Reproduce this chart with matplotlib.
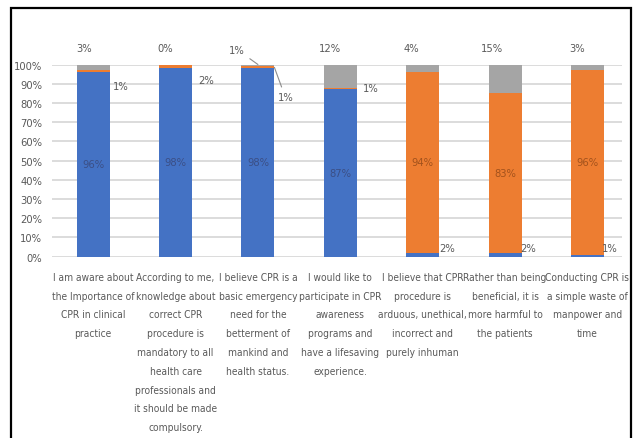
import numpy as np
import matplotlib
matplotlib.use('Agg')
import matplotlib.pyplot as plt
from matplotlib import font_manager
from matplotlib.font_manager import FontProperties
from matplotlib.patches import Rectangle
from matplotlib.ticker import FuncFormatter

# survey statements and answer shares (%)
categories = [
    "I am aware about\nthe Importance of\nCPR in clinical\npractice",
    "According to me,\nknowledge about\ncorrect CPR\nprocedure is\nmandatory to all\nhealth care\nprofessionals and\nit should be made\ncompulsory.",
    "I believe CPR is a\nbasic emergency\nneed for the\nbetterment of\nmankind and\nhealth status.",
    "I would like to\nparticipate in CPR\nawareness\nprograms and\nhave a lifesaving\nexperience.",
    "I believe that CPR\nprocedure is\narduous, unethical,\nincorrect and\npurely inhuman",
    "Rather than being\nbeneficial, it is\nmore harmful to\nthe patients",
    "Conducting CPR is\na simple waste of\nmanpower and\ntime",
]
agree = [96, 98, 98, 87, 2, 2, 1]
disagree = [1, 2, 1, 1, 94, 83, 96]
dont_know = [3, 0, 1, 12, 4, 15, 3]

BLUE = '#4472c4'
ORANGE = '#ed7d31'
GRAY = '#a5a5a5'
TXT = '#595959'


# pick a narrow regular font file (the original uses Calibri)
def narrow_font():
    paths = [f.fname for f in font_manager.fontManager.ttflist]
    for key in ('liberationsansnarrow-regular', 'dejavusanscondensed.ttf'):
        for p in paths:
            if key in p.lower().replace('_', ''):
                return p
    return None


path = narrow_font()
if path:
    def fp(size):
        return FontProperties(fname=path, size=size)
    fs = 8.0
else:
    def fp(size):
        return FontProperties(family='DejaVu Sans', size=size)
    fs = 7.2

W, H = 633, 439
fig = plt.figure(figsize=(W / 100, H / 100), dpi=100)
ax = fig.add_axes([52 / W, 1 - 257.5 / H, 570 / W, 192 / H])

x = np.arange(len(categories))
top2 = np.add(agree, disagree)
ax.bar(x, agree, 0.4, color=BLUE, zorder=2)
ax.bar(x, disagree, 0.4, bottom=agree, color=ORANGE, zorder=2)
ax.bar(x, dont_know, 0.4, bottom=top2, color=GRAY, zorder=2)

ax.set_xlim(-0.5, 6.42)
ax.set_ylim(0, 100)
ax.set_yticks(range(0, 101, 10))
ax.yaxis.set_major_formatter(FuncFormatter(lambda v, p: f"{int(v)}%"))
ax.grid(axis='y', color='#d9d9d9', lw=1.3, zorder=0)
for s in ax.spines.values():
    s.set_visible(False)
ax.tick_params(axis='y', length=0, pad=7, labelcolor=TXT)
ax.set_xticks(x)
ax.set_xticklabels(categories, color=TXT, linespacing=2.1, va='top')
ax.tick_params(axis='x', length=0, pad=11)
for lab in ax.get_yticklabels():
    lab.set_fontproperties(fp(fs))
for lab in ax.get_xticklabels():
    lab.set_fontproperties(fp(fs - 0.7))

# big segment labels, centred
for i in x:
    if agree[i] > disagree[i]:
        ax.text(i, agree[i] / 2, f"{agree[i]}%", ha='center', va='center',
                fontproperties=fp(fs), color='#3b4f86')
    else:
        ax.text(i, agree[i] + disagree[i] / 2, f"{disagree[i]}%", ha='center',
                va='center', fontproperties=fp(fs), color='#a3521c')

# "don't know" labels above the bars
top_off = [(-9, 17), (-10, 17), (-21, 15), (-10, 17), (-11, 17), (-13, 17), (-10, 17)]
for i in x:
    kw = {}
    if i == 2:
        kw['arrowprops'] = dict(arrowstyle='-', color='#8c8c8c', lw=0.8,
                                shrinkA=2, shrinkB=0)
    ax.annotate(f"{dont_know[i]}%", (i, 100), xytext=top_off[i],
                textcoords='offset pixels', ha='center', va='center',
                fontproperties=fp(fs), color=TXT,
                annotation_clip=False, **kw)

# small segment labels beside the bars
side_off = [(28, -21), (31, -15), (11, -30), (30, -23), (24, 8), (23, 8), (22, 8)]
for i in x:
    if agree[i] > disagree[i]:
        val, xy = disagree[i], (i, 100)
    else:
        val, xy = agree[i], (i, 0)
    kw = {}
    if i == 2:
        xy = (i + 0.2, 98.5)
        kw['arrowprops'] = dict(arrowstyle='-', color='#8c8c8c', lw=0.8,
                                shrinkA=2, shrinkB=0)
    ax.annotate(f"{val}%", xy, xytext=side_off[i], textcoords='offset pixels',
                ha='center', va='center', fontproperties=fp(fs),
                color=TXT, annotation_clip=False, **kw)

# picture frame
fig.patches.append(Rectangle((11 / W, -0.1), 620 / W, 1.1 - 9 / H,
                             transform=fig.transFigure, fill=False,
                             ec='black', lw=1.6))

fig.savefig('out.png', dpi=100)
